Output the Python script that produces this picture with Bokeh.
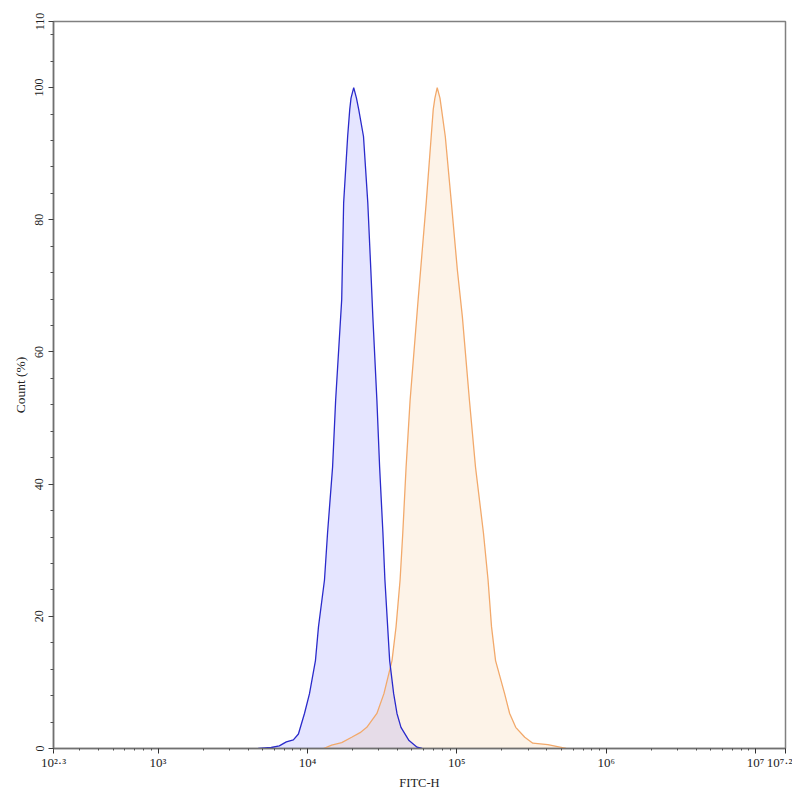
from bokeh.plotting import figure
from bokeh.models import FixedTicker, Range1d
from bokeh.embed import file_html
from bokeh.resources import INLINE

# ---- data ----
blue_x = [4680, 5720, 6480, 7220, 8050, 8700, 9550, 10320, 11310, 11850, 13000,
          13630, 14730, 15440, 16950, 17470, 18580, 19190, 19570, 20400, 21280,
          22030, 23720, 25340, 26560, 27400, 29160, 30410, 32000, 33000, 34430,
          35500, 37760, 39740, 42270, 47860, 54180, 58600]
blue_y = [0, 0.15, 0.4, 1.0, 1.3, 2.2, 5.3, 8.3, 13.3, 18.4, 25.5, 32.6, 42.6,
          52.7, 67.9, 82.6, 92.6, 96.7, 98.4, 100, 98.4, 96.7, 92.6, 82.6, 72.4,
          65.3, 52.7, 42.6, 32.6, 25.5, 18.4, 13.3, 8.3, 5.3, 3.2, 1.2, 0.2, 0]

orange_x = [12820, 14510, 16950, 19760, 22500, 24950, 29160, 32500, 36810, 39170,
            41690, 43460, 45740, 48650, 55060, 62370, 67350, 69500, 71300, 73880,
            77100, 79000, 83690, 91900, 100800, 108900, 121400, 133300, 150700,
            161800, 170700, 181600, 208800, 225700, 247800, 285000, 322400,
            406600, 490000, 538000]
orange_y = [0, 0.5, 0.9, 1.7, 2.4, 3.2, 5.3, 8.3, 13.3, 18.4, 25.5, 32.6, 42.6,
            52.7, 67.9, 82.6, 92.6, 96.7, 98.4, 100, 98.4, 96.7, 92.6, 82.6, 72.4,
            65.3, 52.7, 42.6, 32.6, 25.5, 18.4, 13.3, 8.3, 5.3, 3.2, 1.7, 0.8,
            0.6, 0.2, 0]

x_exponents = [2.3, 3, 4, 5, 6, 7, 7.2]
x_tick_labels = ["10²·³", "10³", "10⁴", "10⁵", "10⁶", "10⁷", "10⁷·²"]
y_ticks = [0, 20, 40, 60, 80, 100, 110]
x_label = "FITC-H"
y_label = "Count (%)"

FONT = "Liberation Serif"
XMIN, XMAX = 10 ** 2.3, 10 ** 7.2

p = figure(width=792, height=792, x_axis_type="log",
           x_range=Range1d(XMIN, XMAX), y_range=Range1d(0, 110),
           output_backend="svg", toolbar_location=None,
           min_border_left=53, min_border_right=7, min_border_top=21,
           min_border_bottom=44)
p.grid.visible = False
p.outline_line_color = "#808080"
p.outline_line_width = 1.5
p.background_fill_color = "white"

# fills and lines
p.varea(x=blue_x, y1=[0] * len(blue_x), y2=blue_y, fill_color="#0000ff", fill_alpha=0.1)
p.varea(x=orange_x, y1=[0] * len(orange_x), y2=orange_y, fill_color="#f0a050", fill_alpha=0.13)
p.line(orange_x, orange_y, line_color="#f2a96b", line_width=1.3)
p.line(blue_x, blue_y, line_color="#2a2acb", line_width=1.3)

# x axis
x_major = [10 ** e for e in x_exponents]
x_minor = [k * 10 ** n for n in range(2, 8) for k in range(2, 10) if XMIN <= k * 10 ** n <= XMAX]
xa = p.xaxis[0]
xa.ticker = FixedTicker(ticks=x_major, minor_ticks=x_minor)
xa.major_label_overrides = {t: s for t, s in zip(x_major, x_tick_labels)}
xa.major_label_text_font = FONT
xa.major_label_text_font_size = "13px"
xa.major_label_text_color = "#222222"
xa.major_label_standoff = 1
xa.axis_label = x_label
xa.axis_label_text_font = FONT
xa.axis_label_text_font_style = "normal"
xa.axis_label_text_font_size = "12.5px"
xa.axis_label_text_color = "#222222"
xa.axis_label_standoff = 3
xa.axis_line_color = "#707070"
xa.axis_line_width = 1.5
xa.major_tick_line_color = "#303030"
xa.minor_tick_line_color = "#505050"
xa.major_tick_in = 0
xa.major_tick_out = 5
xa.minor_tick_in = 0
xa.minor_tick_out = 2

# y axis
ya = p.yaxis[0]
ya.ticker = FixedTicker(ticks=y_ticks, minor_ticks=[v for v in range(4, 110, 4) if v % 20 != 0])
ya.major_label_orientation = "vertical"
ya.major_label_text_font = FONT
ya.major_label_text_font_size = "12px"
ya.major_label_text_color = "#222222"
ya.major_label_standoff = 5
ya.axis_label = y_label
ya.axis_label_text_font = FONT
ya.axis_label_text_font_style = "normal"
ya.axis_label_text_font_size = "13.5px"
ya.axis_label_text_color = "#222222"
ya.axis_label_standoff = 5
ya.axis_line_color = "#707070"
ya.axis_line_width = 1.5
ya.major_tick_line_color = "#404040"
ya.minor_tick_line_color = "#505050"
ya.major_tick_in = 0
ya.major_tick_out = 5
ya.minor_tick_in = 0
ya.minor_tick_out = 3

open("out.html", "w").write(file_html(p, INLINE))
